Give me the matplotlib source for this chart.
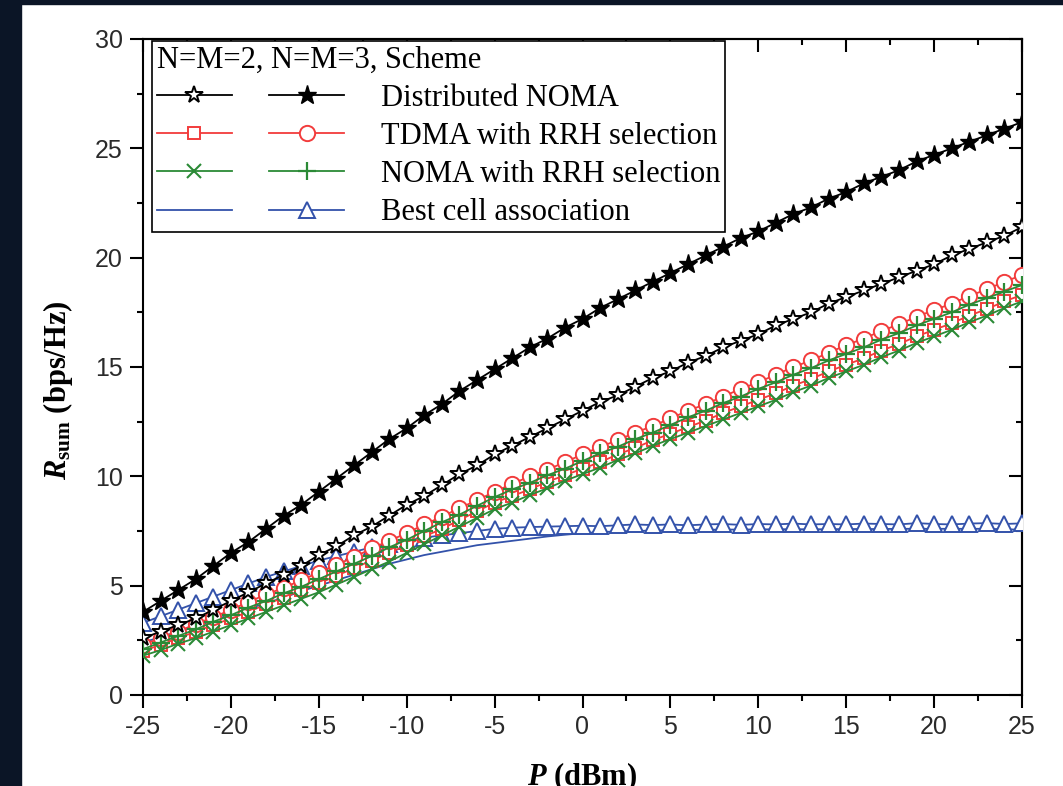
import matplotlib
matplotlib.use('Agg')
import matplotlib.pyplot as plt
from matplotlib.ticker import MultipleLocator
from matplotlib.legend_handler import HandlerTuple
from matplotlib.patches import Rectangle

# transmit power (dBm), one point per dB
P = list(range(-25, 26))

# Distributed NOMA, N=M=2 (open star) and N=M=3 (filled star)
dist_noma_2 = [2.6, 2.9, 3.2, 3.5, 3.9, 4.3, 4.7, 5.1, 5.5, 5.9,
               6.4, 6.8, 7.3, 7.7, 8.2, 8.7, 9.1, 9.6, 10.1, 10.5,
               11.0, 11.4, 11.8, 12.2, 12.6, 13.0, 13.4, 13.7, 14.1, 14.5,
               14.8, 15.2, 15.5, 15.9, 16.2, 16.5, 16.9, 17.2, 17.5, 17.9,
               18.2, 18.5, 18.8, 19.1, 19.4, 19.7, 20.1, 20.4, 20.7, 21.0,
               21.4]
dist_noma_3 = [3.8, 4.3, 4.8, 5.3, 5.9, 6.5, 7.0, 7.6, 8.2, 8.7,
               9.3, 9.9, 10.5, 11.1, 11.7, 12.2, 12.8, 13.3, 13.9, 14.4,
               14.9, 15.4, 15.9, 16.3, 16.8, 17.2, 17.7, 18.1, 18.5, 18.9,
               19.3, 19.7, 20.1, 20.5, 20.9, 21.2, 21.6, 22.0, 22.3, 22.7,
               23.0, 23.4, 23.7, 24.0, 24.4, 24.7, 25.0, 25.3, 25.6, 25.9,
               26.2]

# TDMA with RRH selection
tdma_2 = [2.0, 2.3, 2.6, 2.9, 3.2, 3.5, 3.8, 4.15, 4.45, 4.8,
          5.1, 5.45, 5.8, 6.15, 6.5, 6.85, 7.25, 7.6, 8.0, 8.4,
          8.8, 9.1, 9.4, 9.75, 10.05, 10.35, 10.65, 11.0, 11.3, 11.65,
          11.95, 12.25, 12.55, 12.9, 13.2, 13.5, 13.8, 14.15, 14.45, 14.8,
          15.1, 15.4, 15.75, 16.05, 16.4, 16.7, 17.0, 17.35, 17.65, 18.0,
          18.3]
tdma_3 = [2.3, 2.6, 2.9, 3.25, 3.55, 3.9, 4.25, 4.6, 4.9, 5.25,
          5.6, 5.95, 6.3, 6.7, 7.05, 7.4, 7.8, 8.15, 8.55, 8.9,
          9.3, 9.65, 10.0, 10.3, 10.65, 11.0, 11.35, 11.65, 12.0, 12.3,
          12.65, 13.0, 13.3, 13.65, 14.0, 14.3, 14.65, 15.0, 15.3, 15.65,
          16.0, 16.3, 16.65, 16.95, 17.3, 17.6, 17.9, 18.25, 18.55, 18.9,
          19.2]

# NOMA with RRH selection
noma_rrh_2 = [1.8, 2.05, 2.35, 2.6, 2.9, 3.2, 3.5, 3.8, 4.1, 4.4,
              4.7, 5.05, 5.4, 5.75, 6.1, 6.5, 6.9, 7.3, 7.7, 8.1,
              8.5, 8.8, 9.15, 9.45, 9.8, 10.1, 10.4, 10.75, 11.05, 11.4,
              11.7, 12.0, 12.3, 12.6, 12.9, 13.2, 13.5, 13.85, 14.15, 14.5,
              14.8, 15.1, 15.45, 15.75, 16.1, 16.4, 16.7, 17.05, 17.35, 17.7,
              18.0]
noma_rrh_3 = [2.1, 2.4, 2.7, 3.0, 3.35, 3.65, 4.0, 4.3, 4.65, 4.95,
              5.3, 5.65, 6.0, 6.35, 6.75, 7.1, 7.5, 7.9, 8.25, 8.65,
              9.05, 9.4, 9.7, 10.05, 10.35, 10.7, 11.05, 11.35, 11.7, 12.0,
              12.35, 12.7, 13.0, 13.35, 13.65, 14.0, 14.3, 14.65, 14.95, 15.3,
              15.6, 15.9, 16.25, 16.55, 16.9, 17.2, 17.5, 17.85, 18.15, 18.45,
              18.75]

# Best cell association
best_cell_2 = [2.4, 2.65, 2.9, 3.15, 3.4, 3.7, 3.95, 4.2, 4.45, 4.75,
               5.0, 5.25, 5.5, 5.75, 6.0, 6.2, 6.4, 6.55, 6.7, 6.85,
               6.95, 7.05, 7.15, 7.25, 7.33, 7.4, 7.45, 7.48, 7.5, 7.52,
               7.54, 7.55, 7.56, 7.56, 7.57, 7.57, 7.58, 7.58, 7.58, 7.58,
               7.59, 7.59, 7.59, 7.6, 7.6, 7.6, 7.6, 7.6, 7.6, 7.58,
               7.56]
best_cell_3 = [3.3, 3.6, 3.9, 4.2, 4.5, 4.8, 5.1, 5.4, 5.65, 5.9,
               6.15, 6.35, 6.55, 6.75, 6.9, 7.05, 7.2, 7.3, 7.4, 7.5,
               7.6, 7.65, 7.68, 7.7, 7.72, 7.74, 7.72, 7.76, 7.8, 7.77,
               7.8, 7.76, 7.8, 7.82, 7.78, 7.82, 7.8, 7.84, 7.8, 7.82,
               7.8, 7.84, 7.82, 7.8, 7.86, 7.82, 7.8, 7.84, 7.86, 7.82,
               7.85]

labels = ['Distributed NOMA', 'TDMA with RRH selection',
          'NOMA with RRH selection', 'Best cell association']
legend_title = 'N=M=2, N=M=3, Scheme'

RED = '#f23c3c'
GREEN = '#2b8a36'
BLUE = '#3352aa'
DARK = '#0b1526'

plt.rcParams['font.family'] = 'Liberation Sans'
plt.rcParams['axes.unicode_minus'] = False
plt.rcParams['mathtext.fontset'] = 'custom'
plt.rcParams['mathtext.rm'] = 'Liberation Serif'
plt.rcParams['mathtext.bf'] = 'Liberation Serif:bold'
plt.rcParams['mathtext.it'] = 'Liberation Serif:italic'
plt.rcParams['mathtext.bfit'] = 'Liberation Serif:italic:bold'

W, H = 1063, 786
fig = plt.figure(figsize=(W / 100, H / 100), dpi=100)
# dark strips round the scanned figure
fig.patches.append(Rectangle((0, 0), 21 / W, 1, transform=fig.transFigure,
                             color=DARK, zorder=0))
fig.patches.append(Rectangle((0, 1 - 4 / H), 1, 4 / H, transform=fig.transFigure,
                             color=DARK, zorder=0))

ax = fig.add_axes([143 / W, 91 / H, 879 / W, 656 / H])

lw = 1.3
h_b2, = ax.plot(P, best_cell_2, color=BLUE, lw=lw, zorder=2)
h_b3, = ax.plot(P, best_cell_3, color=BLUE, lw=lw, marker='^', ms=11,
                mfc='white', mec=BLUE, mew=1.4, zorder=3)
h_t2, = ax.plot(P, tdma_2, color=RED, lw=lw, marker='s', ms=9,
                mfc='white', mec=RED, mew=1.4, zorder=4)
h_t3, = ax.plot(P, tdma_3, color=RED, lw=lw, marker='o', ms=11,
                mfc='white', mec=RED, mew=1.4, zorder=4)
h_n2, = ax.plot(P, noma_rrh_2, color=GREEN, lw=lw, marker='x', ms=10,
                mec=GREEN, mew=1.5, zorder=5)
h_n3, = ax.plot(P, noma_rrh_3, color=GREEN, lw=lw, marker='+', ms=13,
                mec=GREEN, mew=1.6, zorder=5)
h_d2, = ax.plot(P, dist_noma_2, color='black', lw=lw, marker='*', ms=13,
                mfc='white', mec='black', mew=1.4, zorder=6)
h_d3, = ax.plot(P, dist_noma_3, color='black', lw=lw, marker='*', ms=14,
                mfc='black', mec='black', mew=1.0, zorder=6)

ax.set_xlim(-25, 25)
ax.set_ylim(0, 30)
ax.xaxis.set_major_locator(MultipleLocator(5))
ax.xaxis.set_minor_locator(MultipleLocator(2.5))
ax.yaxis.set_major_locator(MultipleLocator(5))
ax.yaxis.set_minor_locator(MultipleLocator(2.5))
for s in ax.spines.values():
    s.set_linewidth(1.5)
ax.tick_params(which='both', direction='out', width=1.5, labelsize=18,
               labelcolor='#2a2a2a', pad=5)
ax.tick_params(which='major', length=9.5)
ax.tick_params(which='minor', length=4.5)

# inward ticks on the top and right frame
top = ax.secondary_xaxis('top')
top.xaxis.set_major_locator(MultipleLocator(5))
top.xaxis.set_minor_locator(MultipleLocator(2.5))
top.tick_params(which='both', direction='in', width=1.5, labeltop=False)
top.tick_params(which='major', length=9.5)
top.tick_params(which='minor', length=4.5)
right = ax.secondary_yaxis('right')
right.yaxis.set_major_locator(MultipleLocator(5))
right.yaxis.set_minor_locator(MultipleLocator(2.5))
right.tick_params(which='both', direction='in', width=1.5, labelright=False)
right.tick_params(which='major', length=9.5)
right.tick_params(which='minor', length=4.5)
for sec in (top, right):
    for s in sec.spines.values():
        s.set_linewidth(1.5)

ax.set_xlabel(r'$\mathbfit{P}$ (dBm)', fontfamily='Liberation Serif',
              fontweight='bold', fontsize=22)
ax.xaxis.set_label_coords(0.5, -0.1)
ax.set_ylabel(r'$\mathbfit{R}_{\mathbf{sum}}$ (bps/Hz)', fontfamily='Liberation Serif',
              fontweight='bold', fontsize=22)
ax.yaxis.label.set_va('center')
ax.yaxis.set_label_coords(-0.097, 0.465)

leg = ax.legend([(h_d2, h_d3), (h_t2, h_t3), (h_n2, h_n3), (h_b2, h_b3)], labels,
                handler_map={tuple: HandlerTuple(ndivide=None, pad=1.21)},
                title=legend_title, alignment='left',
                prop={'family': 'Liberation Serif', 'size': 22},
                title_fontproperties={'family': 'Liberation Serif', 'size': 22},
                loc='upper left', bbox_to_anchor=(9 / 879, 1 - 2 / 656),
                borderaxespad=0, borderpad=0.15, handlelength=6.14,
                handletextpad=1.21, labelspacing=0.3, fancybox=False,
                framealpha=1, edgecolor='black')
leg.get_frame().set_linewidth(1.2)
leg.set_zorder(10)

fig.savefig('out.png', dpi=100)
